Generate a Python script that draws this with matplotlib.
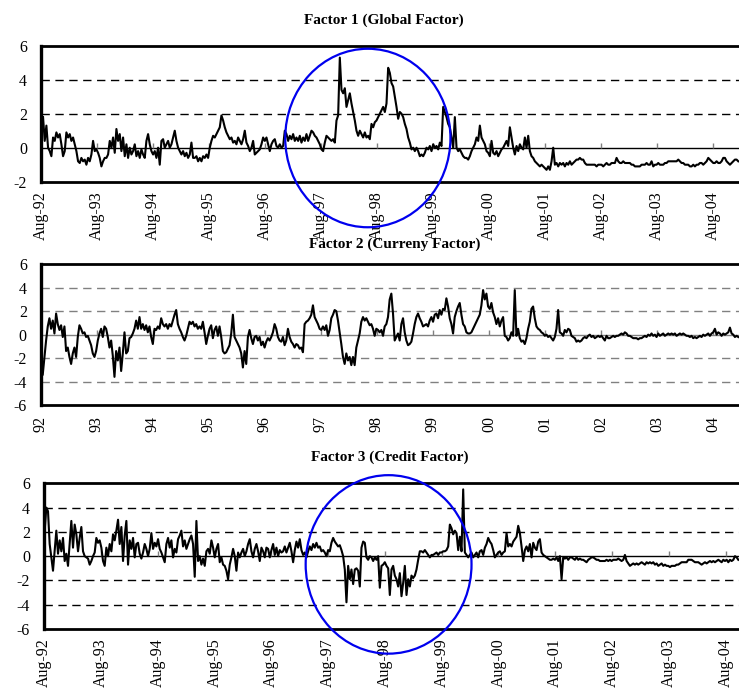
import numpy as np
import matplotlib
matplotlib.use("Agg")
import matplotlib.pyplot as plt
from matplotlib.patches import Ellipse

plt.rcParams["font.family"] = "Liberation Serif"
plt.rcParams["axes.unicode_minus"] = False

# ---------------------------------------------------------------------
# Data (one value every ~1/34 of a year)
# ---------------------------------------------------------------------
years = list(range(1992, 2005))
aug_labels = ["Aug-%02d" % (y % 100) for y in years]
short_labels = ["%02d" % (y % 100) for y in years]

factor1 = [
    1.8, 0.4, 1.3, 0.0, -0.2, -0.5, 0.6, 0.4, 0.9, 0.6,
    0.8, 0.2, -0.5, -0.2, 0.9, 0.6, 0.8, 0.4, 0.6, 0.2,
    -0.2, -0.8, -0.9, -0.6, -0.8, -0.7, -1.0, -0.6, -0.8, -0.4,
    0.4, -0.2, -0.1, -0.3, -0.6, -1.1, -0.8, -0.6, -0.6, -0.4,
    0.4, 0.0, 0.6, -0.3, 1.1, 0.4, 0.8, -0.2, 0.6, -0.5,
    0.2, -0.6, 0.0, -0.4, -0.2, 0.2, -0.5, -0.2, -0.6, -0.1,
    -0.4, -0.6, 0.4, 0.8, 0.2, -0.2, -0.4, -0.2, -0.6, 0.0,
    -1.0, 0.4, 0.5, 0.0, 0.2, 0.4, 0.0, 0.2, 0.6, 1.0,
    0.4, 0.0, -0.2, -0.4, -0.2, -0.5, -0.3, -0.6, -0.4, 0.3,
    -0.6, -0.6, -0.5, -0.8, -0.6, -0.8, -0.5, -0.6, -0.4, -0.6,
    0.0, 0.4, 0.7, 0.6, 0.8, 1.0, 1.2, 1.9, 1.6, 1.2,
    0.9, 0.7, 0.5, 0.6, 0.3, 0.4, 0.2, 0.6, 0.4, 0.2,
    0.5, 1.0, 0.3, 0.1, -0.2, 0.0, 0.4, -0.4, -0.3, -0.2,
    -0.1, 0.2, 0.6, 0.4, 0.6, 0.2,
    -0.2, 0.2, 0.4, 0.5, 0.1, 0.0, 0.2, 0.0, 0.1, 1.0,
    0.8, 0.4, 0.7, 0.5, 0.8, 0.4, 0.6, 0.4, 0.7, 0.3,
    0.6, 0.4, 0.8, 0.4, 0.7, 1.0, 0.9, 0.7, 0.6, 0.4,
    0.2, -0.1, -0.2, 0.3, 0.7, 0.6, 0.5, 0.4, 0.5, 0.3,
    1.6, 1.9, 5.3, 3.4, 3.2, 3.5, 2.4, 2.8, 3.2, 2.6,
    2.1, 1.6, 1.0, 0.7, 1.0, 0.8, 0.6, 0.9, 0.6, 0.7,
    0.5, 1.4, 1.2, 1.5, 1.6, 1.8, 2.0, 2.2, 2.4, 2.1,
    2.6, 4.7, 4.4, 3.8, 3.6, 3.0, 2.4, 1.7, 2.1, 2.0,
    1.8, 1.4, 1.1, 0.6, 0.3, -0.1, 0.0, -0.2, 0.0, -0.2,
    -0.5, -0.4, -0.5, -0.3, 0.0, -0.1, 0.1, -0.2, 0.2, 0.0,
    0.1, -0.1, 0.3, 0.1, 2.4, 2.1, 1.8, 1.4, 1.2, 0.6,
    0.0, 1.8, 0.0, -0.2, -0.1, -0.3, -0.5, -0.6, -0.6, -0.7,
    -0.5, -0.2, 0.0, 0.2, 0.6, 0.4, 1.3, 0.6, 0.4, 0.2,
    -0.2, -0.3, -0.5,
    0.4, -0.3, -0.4, -0.2, -0.5, -0.3, -0.1, 0.0, 0.2, 0.4,
    0.1, 1.2, 0.6, 0.0, -0.4, 0.1, -0.2, 0.2, 0.0, -0.1,
    0.6, 0.0, 0.7, -0.2, -0.5, -0.6, -0.8, -0.9, -1.0, -1.1,
    -1.0, -1.1, -1.2, -1.3, -1.1, -1.3, -0.8, 0.0, -1.0, -0.9,
    -1.1, -0.9, -1.0, -0.9, -1.1, -0.9, -1.0, -0.8, -1.0, -0.9,
    -0.8, -0.7, -0.7, -0.6, -0.7, -0.7, -0.9, -1.0, -1.0, -1.0,
    -1.0, -1.0, -1.0, -1.1, -1.0, -1.0, -1.0, -1.1, -1.0, -0.9,
    -1.0, -1.0, -0.9, -0.9, -0.9, -0.6, -0.8, -0.9, -0.9, -0.8,
    -0.9, -0.9, -0.9, -0.9, -1.0, -1.0, -1.1, -1.1, -1.1, -1.1,
    -1.0, -1.0, -1.0, -0.9, -1.0, -1.0, -0.8, -1.1, -1.0, -1.0,
    -0.9, -1.0, -1.0, -1.0, -0.9, -0.9, -0.8, -0.8, -0.8, -0.8,
    -0.8, -0.8, -0.7, -0.8, -0.9, -0.9, -1.0, -1.0, -1.0, -1.1,
    -1.1, -1.0, -1.1, -1.0, -1.0, -0.9, -0.9, -1.0, -0.9, -0.8,
    -0.6, -0.7, -0.8, -0.9, -0.9, -0.8, -0.9, -0.9, -0.8, -0.6,
    -0.6, -0.8, -0.9, -1.0, -0.9, -0.8, -0.7, -0.7, -0.8,
]

factor2 = [
    -3.4, -1.9, -0.5, 0.7, 1.4, 0.5, 1.2, 0.1, 1.8, 0.9,
    0.4, 0.8, -0.2, 0.7, -1.4, -1.1, -1.9, -2.5, -1.6, -1.1,
    -1.9, -0.2, 0.8, 0.5, 0.1, 0.2, -0.2, -0.1, -0.5, -0.9,
    -1.6, -1.9, -1.4, -0.5, 0.1, 0.5, -0.2, 0.7, 0.5, -0.2,
    -1.1, -0.5, -1.8, -3.6, -1.4, -2.2, -1.1, -3.1, -1.6, 0.2,
    -1.6, -1.4, -0.3, -0.2, 0.1, 0.5, 1.2, 0.5, 1.5, 0.5,
    0.9, 0.4, 0.8, 0.2, 0.7, -0.2, -0.8, 0.5, 0.4, 0.7,
    0.5, 1.4, 0.9, 0.7, 0.9, 0.5, 0.9, 0.7, 1.2, 1.7,
    2.1, 0.9, 0.5, 0.2, -0.2, -0.5, -0.1, 0.5, 1.1, 0.9,
    1.1, 0.7, 0.9, 0.5, 0.7, 0.5, 1.1, 0.2, -0.8, -0.1,
    0.5, 0.8, -0.3, 0.4, 0.7, -0.1, 0.7, -0.2, -1.4, -1.6,
    -1.5, -1.2, -0.9, 0.1, 1.7, -0.2, -0.5, -0.8, -1.1, -1.6,
    -2.8, -1.4, -2.5, -0.2, 0.4, -0.3, -0.8, -0.2, -0.1, -0.5,
    -0.2, -0.9, -0.6, -1.1, -0.6, -0.3,
    -0.5, -0.2, 0.2, 0.9, 0.5, -0.2, -0.5, -0.6, -0.2, -0.9,
    -0.5, 0.5, -0.2, -0.6, -0.8, -1.1, -0.8, -0.9, -1.2, -1.1,
    -1.5, 0.9, 1.1, 1.2, 1.4, 1.7, 2.5, 1.5, 1.2, 0.9,
    0.5, 0.4, 0.7, 0.4, 0.8, -0.1, 0.4, 1.4, 1.7, 2.1,
    2.0, 1.2, 0.2, -0.8, -1.9, -2.5, -1.6, -2.2, -1.9, -2.6,
    -1.9, -2.6, -1.1, -0.5, 0.1, 1.1, 1.5, 1.2, 1.4, 1.1,
    0.8, 0.9, 0.5, -0.1, 0.5, 0.4, 0.2, 0.4, -0.1, 0.7,
    0.9, 1.5, 3.0, 3.5, 1.8, -0.5, -0.2, 0.1, -0.5, 0.9,
    1.4, 0.2, -0.5, -0.9, -0.8, -0.6, 0.1, 0.9, 1.5, 1.8,
    1.4, 1.1, 0.7, 0.8, 0.9, 0.7, 1.2, 1.5, 1.1, 1.7,
    1.8, 1.4, 2.1, 1.7, 2.2, 2.1, 3.1, 2.4, 1.4, 0.9,
    0.1, 1.5, 2.0, 2.4, 2.7, 1.7, 0.9, 0.7, 0.2, 0.1,
    0.1, 0.2, 0.5, 0.8, 1.1, 1.4, 1.7, 2.5, 3.8, 3.0,
    3.5, 2.4, 2.2,
    2.7, 1.9, 1.5, 0.9, 1.4, 0.7, 1.2, 1.5, -0.1, -0.2,
    -0.5, -0.3, 0.2, -0.1, 3.8, -0.1, 0.5, -0.3, -0.6, -0.5,
    -0.8, -0.3, 0.5, 1.1, 2.2, 2.4, 1.4, 0.7, 0.5, 0.4,
    0.2, 0.1, -0.1, 0.0, -0.2, -0.1, -0.3, -0.5, -0.2, 0.5,
    2.1, 0.2, 0.1, -0.1, 0.4, 0.2, 0.5, 0.4, -0.1, -0.2,
    -0.3, -0.6, -0.5, -0.6, -0.5, -0.3, -0.2, -0.3, -0.1, 0.0,
    -0.2, -0.1, -0.3, -0.2, -0.1, -0.2, -0.1, -0.3, -0.5, -0.1,
    -0.3, -0.3, -0.2, -0.1, -0.2, -0.1, -0.1, 0.0, 0.1, 0.0,
    0.2, 0.1, -0.1, -0.1, -0.2, -0.3, -0.3, -0.3, -0.4, -0.3,
    -0.3, -0.2, -0.1, -0.2, 0.0, -0.1, 0.1, -0.1, 0.0, -0.2,
    0.1, -0.1, 0.0, 0.1, -0.1, 0.0, 0.1, 0.0, 0.1, 0.0,
    0.1, -0.1, 0.0, 0.1, 0.0, 0.1, 0.0, -0.1, -0.1, -0.2,
    -0.1, -0.3, -0.2, -0.3, -0.2, -0.1, -0.2, 0.0, -0.1, 0.0,
    0.1, -0.1, 0.1, 0.2, 0.5, 0.0, 0.2, 0.1, -0.1, 0.1,
    0.0, 0.1, 0.2, 0.6, 0.1, 0.0, -0.2, -0.1, -0.2,
]

factor3 = [
    2.1, 4.0, 3.7, 1.0, -0.1, -1.2, 0.4, 2.1, 0.2, 1.3,
    0.4, 1.5, -0.4, 0.2, -0.8, 1.0, 2.9, 0.7, 2.6, 1.8,
    0.4, 1.5, 2.4, 0.4, 0.0, -0.1, -0.2, -0.7, -0.4, 0.0,
    0.3, 1.5, 1.1, 1.3, 0.7, -0.4, -0.8, 0.7, 0.0, 1.0,
    0.4, 1.8, 1.3, 2.1, 3.0, 1.0, 2.4, -0.4, 1.7, 2.9,
    -0.7, 1.3, 0.6, 1.5, -0.1, 1.0, 1.1, 0.2, -0.2, 0.3,
    1.0, 0.6, 0.0, 0.6, 1.9, 0.6, 1.1, 0.8, 1.4, 0.6,
    0.3, -0.1, -0.5, 1.0, 1.5, 0.7, 1.3, -0.1, 0.6, 0.3,
    1.4, 1.7, 2.1, 0.8, 1.3, 0.6, 1.0, 1.4, 1.7, 1.0,
    -1.7, 2.9, -0.4, 0.0, -0.7, -0.2, -0.8, 0.4, 0.6, 0.2,
    1.3, 0.7, -0.1, 0.6, 1.0, -0.5, -0.1, -0.7, -0.8, -1.2,
    -1.9, -0.7, -0.1, 0.6, 0.0, -1.2, 0.3, -0.1, 0.3, 0.6,
    0.0, 0.4, 1.0, 1.4, 0.4, -0.1, 0.6, 1.0, 0.4, -0.4,
    0.7, 0.4, -0.1, 0.7, 0.6,
    -0.1, 0.5, 1.0, 0.1, 0.7, 0.0, 0.5, 0.3, 0.4, 0.8,
    0.3, 0.7, 1.1, 0.4, -0.5, 0.5, 1.2, 0.7, 1.4, 0.5,
    0.1, 0.3, -0.1, 0.4, 0.8, 0.5, 1.0, 0.7, 1.1, 0.7,
    0.8, 0.4, 0.5, 0.3, 0.0, 0.5, 0.4, 1.1, 1.5, 1.2,
    1.0, 0.8, 0.9, 0.5, 0.0, -1.1, -3.8, -0.8, -1.9, -1.1,
    -2.3, -1.1, -1.0, -1.2, -2.5, 0.7, 1.2, 1.1, -0.1, -0.3,
    0.0, -0.1, -0.4, -0.1, -0.3, 0.0, -2.6, -0.8, -0.7, -0.5,
    -0.8, -1.0, -3.2, -1.1, -0.8, -1.6, -1.9, -2.5, -1.4, -3.3,
    -2.2, -0.8, -3.2, -1.9, -2.5, -1.6, -1.8, -1.6, -1.1, -0.3,
    0.4, 0.4, 0.3, 0.5, 0.3, 0.1, -0.1, 0.1, 0.1, 0.2,
    0.3, 0.1, 0.3, 0.3, 0.4, 0.4, 0.5, 0.8, 2.6, 2.3,
    1.8, 2.1, 1.9, 0.5, 1.6, 0.4, 5.5, 0.3, 0.1, -0.1,
    0.1, 0.3, -0.1, 0.1, 0.3, -0.1, 0.4, 0.5, 0.1, 0.7,
    1.0, 1.5, 1.2,
    1.0, 0.5, -0.1, 0.1, 0.3, 0.4, 0.1, 0.3, 0.4, 1.9,
    0.8, 1.0, 0.8, 1.2, 1.4, 1.6, 2.5, 1.9, 0.8, -0.4,
    0.5, 0.8, 0.4, 1.0, -0.1, 1.1, 0.7, 0.5, 1.2, 1.4,
    0.3, 0.1, 0.0, -0.1, -0.2, -0.3, -0.3, -0.2, -0.3, -0.1,
    -0.4, 0.0, -1.9, -0.1, -0.2, -0.1, -0.3, -0.1, -0.1, -0.2,
    -0.3, -0.1, -0.3, -0.2, -0.3, -0.3, -0.4, -0.5, -0.3, -0.2,
    -0.1, -0.1, -0.2, -0.3, -0.3, -0.4, -0.4, -0.4, -0.4, -0.3,
    -0.4, -0.3, -0.4, -0.3, -0.3, -0.3, -0.2, -0.3, -0.4, -0.3,
    0.1, -0.4, -0.6, -0.8, -0.7, -0.6, -0.7, -0.6, -0.7, -0.6,
    -0.5, -0.6, -0.7, -0.5, -0.6, -0.5, -0.6, -0.5, -0.7, -0.6,
    -0.8, -0.7, -0.6, -0.8, -0.7, -0.8, -0.8, -0.9, -0.8, -0.8,
    -0.8, -0.7, -0.7, -0.6, -0.5, -0.5, -0.5, -0.5, -0.3, -0.3,
    -0.3, -0.4, -0.5, -0.5, -0.5, -0.6, -0.7, -0.6, -0.5, -0.6,
    -0.5, -0.4, -0.5, -0.4, -0.5, -0.4, -0.3, -0.4, -0.5, -0.3,
    -0.4, -0.3, -0.5, -0.3, -0.4, -0.3, 0.0, -0.1, -0.3,
]

# first and last observation of each series, in decimal years
span1 = (1992.62, 2005.035)
span2 = (1992.62, 2005.035)
span3 = (1992.595, 2004.807)

titles = ["Factor 1 (Global Factor)",
          "Factor 2 (Curreny Factor)",
          "Factor 3 (Credit Factor)"]

# ---------------------------------------------------------------------
# Figure
# ---------------------------------------------------------------------
W, H = 739, 693
fig = plt.figure(figsize=(W / 100, H / 100), dpi=100)

aug = 7 / 12.0
tick_pos = [y + aug for y in years]

panels = [
    # (series, span, labels, ylim, yticks, grid colour, axes box in px: left, top, bottom, xmax, label pad)
    (factor1, span1, aug_labels, (-2, 6), range(-2, 7, 2), "black", (41, 45.7, 181.7, 2005.048, 7)),
    (factor2, span2, short_labels, (-6, 6), range(-6, 7, 2), "#808080", (40.7, 264.3, 405, 2005.048, 8)),
    (factor3, span3, aug_labels, (-6, 6), range(-6, 7, 2), "black", (44, 483.3, 629, 2004.819, 7)),
]

axes = []
for vals, span, labels, ylim, yticks, gcol, box in panels:
    left, top, bottom, xmax, xpad = box
    ax = fig.add_axes([left / W, 1 - bottom / H, 1.0 - left / W, (bottom - top) / H])
    t = np.linspace(span[0], span[1], len(vals))
    ax.plot(t, vals, color="black", lw=1.5, zorder=3)

    for g in yticks:
        if g == 0:
            ax.axhline(0, color=gcol, lw=1.0, zorder=2)
        elif ylim[0] < g < ylim[1]:
            ax.axhline(g, color=gcol, lw=1.0, ls=(0, (6, 4)), zorder=1)

    # little year marks sitting on the zero line
    px = (bottom - top) / (ylim[1] - ylim[0])
    ax.vlines(tick_pos, 0, 5.0 / px, color="#808080", lw=1.0, zorder=2)

    ax.set_xlim(1992 + aug, xmax)
    ax.set_ylim(*ylim)
    ax.set_yticks(list(yticks))
    ax.set_yticklabels([str(v) for v in yticks], fontsize=11.5)
    ax.set_xticks(tick_pos)
    ax.set_xticklabels(labels, rotation=90, fontsize=11.5)
    ax.tick_params(axis="y", length=0, pad=10)
    ax.tick_params(axis="x", length=0, pad=xpad)
    ax.spines["right"].set_visible(False)
    ax.spines["left"].set_linewidth(2.4)
    for s in ("top", "bottom"):
        ax.spines[s].set_linewidth(2.0)
    axes.append(ax)

fig.text(384 / W, 1 - 20 / H, titles[0], ha="center", va="center", fontsize=11, fontweight="bold")
fig.text(395 / W, 1 - 244 / H, titles[1], ha="center", va="center", fontsize=11, fontweight="bold")
fig.text(390 / W, 1 - 457 / H, titles[2], ha="center", va="center", fontsize=11, fontweight="bold")

# blue rings around the 1997-99 crisis period
axes[0].add_patch(Ellipse((1998.42, 0.57), 2.95, 10.5, fill=False, ec="#0000ee",
                          lw=1.6, clip_on=False, zorder=5))
axes[2].add_patch(Ellipse((1998.65, -0.68), 2.92, 14.7, fill=False, ec="#0000ee",
                          lw=1.6, clip_on=False, zorder=5))

fig.savefig("out.png", dpi=100)
